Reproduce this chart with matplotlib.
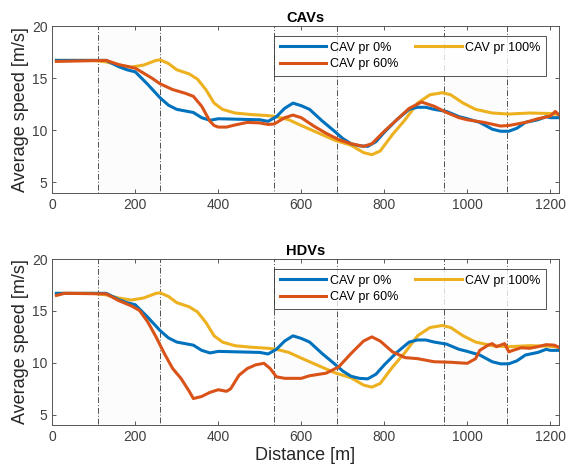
import matplotlib
matplotlib.use("Agg")
import matplotlib.pyplot as plt
from matplotlib.patches import Rectangle

plt.rcParams["font.family"] = ["Liberation Sans", "DejaVu Sans"]

# CAV pr 0% (same in both panels)
x_p0 = [10, 130, 160, 180, 200, 230, 260, 280, 300, 340, 360, 380, 400, 450, 500, 520, 540, 560, 580,
        600, 620, 650, 680, 700, 720, 740, 760, 780, 800, 830, 860, 880, 900, 920, 950, 980, 1000, 1030,
        1060, 1080, 1100, 1120, 1140, 1170, 1190, 1200, 1220]
y_p0 = [16.7, 16.7, 16.1, 15.8, 15.6, 14.4, 13.1, 12.4, 12.0, 11.7, 11.2, 10.95, 11.1, 11.05, 11.0, 10.85,
        11.3, 12.1, 12.6, 12.35, 12.0, 10.9, 9.9, 9.2, 8.7, 8.5, 8.45, 8.9, 9.8, 11.0, 12.0, 12.2, 12.2,
        12.0, 11.8, 11.3, 11.1, 10.75, 10.1, 9.9, 9.9, 10.2, 10.75, 11.0, 11.3, 11.2, 11.2]

# CAV pr 100% (same in both panels)
x_p100 = [10, 100, 130, 160, 190, 220, 250, 260, 280, 300, 330, 350, 370, 390, 410, 440, 480, 520, 540,
          570, 600, 640, 680, 720, 750, 770, 790, 820, 850, 880, 910, 940, 960, 990, 1020, 1060, 1100,
          1150, 1200, 1220]
y_p100 = [16.7, 16.7, 16.55, 16.25, 16.05, 16.25, 16.7, 16.75, 16.4, 15.8, 15.4, 14.9, 13.9, 12.6, 12.0,
          11.65, 11.5, 11.4, 11.3, 11.0, 10.45, 9.75, 9.05, 8.55, 7.85, 7.65, 8.0, 9.6, 11.0, 12.6, 13.4,
          13.6, 13.4, 12.6, 12.0, 11.65, 11.55, 11.65, 11.6, 11.5]

# CAV pr 60%, CAV speeds
x_cav60 = [10, 130, 160, 200, 240, 260, 290, 320, 340, 360, 380, 390, 400, 420, 440, 470, 500, 520, 535,
           560, 580, 600, 630, 660, 690, 720, 750, 770, 800, 830, 860, 890, 920, 950, 980, 1000, 1040,
           1080, 1100, 1140, 1170, 1200, 1212, 1220]
y_cav60 = [16.6, 16.7, 16.3, 15.95, 15.0, 14.45, 13.9, 13.55, 13.25, 12.3, 10.85, 10.45, 10.3, 10.3,
           10.5, 10.75, 10.7, 10.55, 10.6, 11.2, 11.45, 11.2, 10.4, 9.7, 9.1, 8.7, 8.45, 8.7, 9.9, 11.0,
           12.1, 12.7, 12.3, 11.7, 11.2, 11.0, 10.75, 10.4, 10.45, 10.75, 11.1, 11.35, 11.8, 11.5]

# CAV pr 60%, HDV speeds
x_hdv60 = [10, 30, 130, 160, 190, 210, 230, 250, 270, 290, 310, 330, 340, 360, 380, 400, 420, 430, 450,
           470, 490, 510, 525, 540, 560, 600, 620, 660, 690, 720, 750, 770, 790, 820, 850, 880, 920, 960,
           1000, 1020, 1030, 1050, 1060, 1070, 1080, 1090, 1100, 1110, 1130, 1150, 1170, 1190, 1210, 1220]
y_hdv60 = [16.5, 16.7, 16.65, 16.0, 15.5, 15.05, 13.95, 12.5, 10.9, 9.45, 8.5, 7.25, 6.55, 6.75, 7.15,
           7.4, 7.25, 7.5, 8.8, 9.45, 9.8, 9.95, 9.45, 8.65, 8.5, 8.5, 8.75, 9.0, 9.6, 10.9, 12.1, 12.5,
           12.1, 11.05, 10.5, 10.4, 10.1, 10.05, 9.95, 10.4, 11.2, 11.7, 11.85, 11.55, 11.7, 11.85, 11.05,
           11.2, 11.45, 11.4, 11.55, 11.75, 11.7, 11.5]

zones = [(110, 260), (535, 685), (945, 1095)]

c_blue, c_red, c_yel = "#0072BD", "#D95319", "#EDB120"

fig = plt.figure(figsize=(5.68, 4.72), dpi=100)
ax1 = fig.add_axes([0.092, 0.5917, 0.8915, 0.3532])
ax2 = fig.add_axes([0.092, 0.0996, 0.8915, 0.3514])

panels = [(ax1, "CAVs", x_cav60, y_cav60), (ax2, "HDVs", x_hdv60, y_hdv60)]
for ax, title, x60, y60 in panels:
    for a, b in zones:
        ax.add_patch(Rectangle((a, 4), b - a, 16, facecolor=(0.5, 0.5, 0.5, 0.02),
                               edgecolor="#505050", linestyle=(0, (6, 2, 1, 2)), linewidth=0.7,
                               zorder=1))
    ax.plot(x_p0, y_p0, color=c_blue, lw=2.2, label="CAV pr 0%", zorder=3)
    ax.plot(x60, y60, color=c_red, lw=2.2, label="CAV pr 60%", zorder=3)
    ax.plot(x_p100, y_p100, color=c_yel, lw=2.2, label="CAV pr 100%", zorder=2.5)
    ax.set_xlim(0, 1220)
    ax.set_ylim(4, 20)
    ax.set_xticks([0, 200, 400, 600, 800, 1000, 1200])
    ax.set_yticks([5, 10, 15, 20])
    ax.tick_params(direction="in", top=True, right=True, labelsize=10, colors="#404040",
                   length=3, width=0.6)
    for s in ax.spines.values():
        s.set_color("#555555")
        s.set_linewidth(0.7)
    ax.set_title(title, fontsize=10.5, fontweight="bold", pad=3)
    ax.set_ylabel("Average speed [m/s]", fontsize=13, color="#262626", labelpad=2)
    leg = ax.legend(ncol=2, loc="upper right", bbox_to_anchor=(0.976, 0.94), borderaxespad=0,
                    fontsize=9, frameon=True, fancybox=False, handlelength=3.7,
                    columnspacing=1.4, labelspacing=0.35, borderpad=0.45, handletextpad=0.3)
    leg.get_frame().set_edgecolor("#262626")
    leg.get_frame().set_linewidth(0.7)

ax2.set_xlabel("Distance [m]", fontsize=13, color="#262626", labelpad=2)

fig.savefig("out.png", dpi=100)
